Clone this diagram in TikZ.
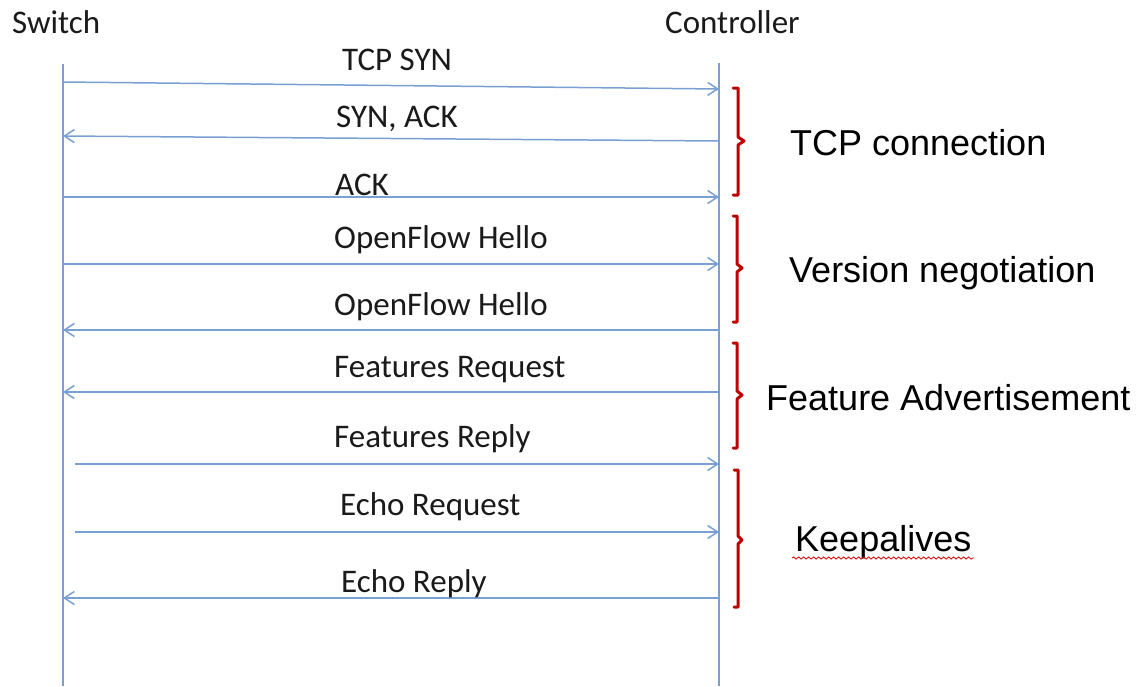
\documentclass[tikz,border=0pt]{standalone}
\usepackage{fontspec}
\setmainfont{Carlito}
\newfontfamily\arialfont{Liberation Sans}
\usetikzlibrary{arrows.meta,decorations.pathmorphing}

\definecolor{lifeblue}{HTML}{7A9FD2}
\definecolor{bracered}{HTML}{C00000}
\definecolor{msgtext}{HTML}{1A1A1A}

\begin{document}
\begin{tikzpicture}[x=1pt,y=-1pt,
  lifeline/.style={draw=lifeblue,line width=1.5pt},
  msg/.style={draw=lifeblue,line width=1.5pt,-{Straight Barb[length=10pt,width=13pt,line width=1.5pt]}},
  msglabel/.style={anchor=base west,inner sep=0pt,text=msgtext,font=\fontsize{33}{40}\selectfont},
  grouplabel/.style={anchor=base west,inner sep=0pt,text=black,font=\arialfont\fontsize{36}{43}\selectfont},
  groupbrace/.style={draw=bracered,line width=3pt,line join=round,line cap=round},
  spellmark/.style={draw=red!85!black,line width=0.8pt,decorate,decoration={snake,amplitude=1.1pt,segment length=5pt}}]

\useasboundingbox (0,0) rectangle (1143,686);
\fill[white] (0,0) rectangle (1143,686);

% lifelines
\node[msglabel] (switch) at (12,33) {Switch};
\node[msglabel] (controller) at (665,33) {Controller};
\coordinate (stop) at (63,64);
\coordinate (sbot) at (63,686);
\coordinate (ctop) at (719,63);
\coordinate (cbot) at (719,686);
\draw[lifeline] (stop) -- (sbot);
\draw[lifeline] (ctop) -- (cbot);

% message end points on the lifelines
\coordinate (s1) at (63,82);  \coordinate (c1) at (719,89);
\coordinate (s2) at (63,136); \coordinate (c2) at (719,141);
\coordinate (s3) at (63,197); \coordinate (c3) at (719,197);
\coordinate (s4) at (63,264); \coordinate (c4) at (719,264);
\coordinate (s5) at (63,330); \coordinate (c5) at (719,330);
\coordinate (s6) at (63,392); \coordinate (c6) at (719,392);
\coordinate (s7) at (75,464); \coordinate (c7) at (719,464);
\coordinate (s8) at (75,532); \coordinate (c8) at (719,532);
\coordinate (s9) at (63,598); \coordinate (c9) at (719,598);

% messages
\draw[msg] (s1) -- (c1);
\draw[msg] (c2) -- (s2);
\draw[msg] (s3) -- (c3);
\draw[msg] (s4) -- (c4);
\draw[msg] (c5) -- (s5);
\draw[msg] (c6) -- (s6);
\draw[msg] (s7) -- (c7);
\draw[msg] (s8) -- (c8);
\draw[msg] (c9) -- (s9);

% message labels
\node[msglabel] (m1) at (342,70)  {TCP SYN};
\node[msglabel] (m2) at (336,127) {SYN, ACK};
\node[msglabel] (m3) at (335,195) {ACK};
\node[msglabel] (m4) at (334,248) {OpenFlow Hello};
\node[msglabel] (m5) at (334,315) {OpenFlow Hello};
\node[msglabel] (m6) at (334,377) {Features Request};
\node[msglabel] (m7) at (334,447) {Features Reply};
\node[msglabel] (m8) at (340,515) {Echo Request};
\node[msglabel] (m9) at (341,592) {Echo Reply};

% phase braces
\draw[groupbrace] (733,88) -- (738,88) -- (738,137) -- (744,141) -- (738,145) -- (738,195) -- (733,195);
\draw[groupbrace] (733,216) -- (737,216) -- (737,264) -- (742,268) -- (737,272) -- (737,322) -- (733,322);
\draw[groupbrace] (733,343) -- (737,343) -- (737,391) -- (742,395) -- (737,399) -- (737,448) -- (733,448);
\draw[groupbrace] (734,470) -- (738,470) -- (738,536) -- (742,540) -- (738,544) -- (738,607) -- (734,607);

% phase labels
\node[grouplabel] (g1) at (790,155) {TCP connection};
\node[grouplabel] (g2) at (789,282) {Version negotiation};
\node[grouplabel] (g3) at (766,410) {Feature Advertisement};
\node[grouplabel] (g4) at (795,551) {Keepalives};
\coordinate (w1) at (792,558);
\coordinate (w2) at (974,558);
\draw[spellmark] (w1) -- (w2);

\end{tikzpicture}
\end{document}
